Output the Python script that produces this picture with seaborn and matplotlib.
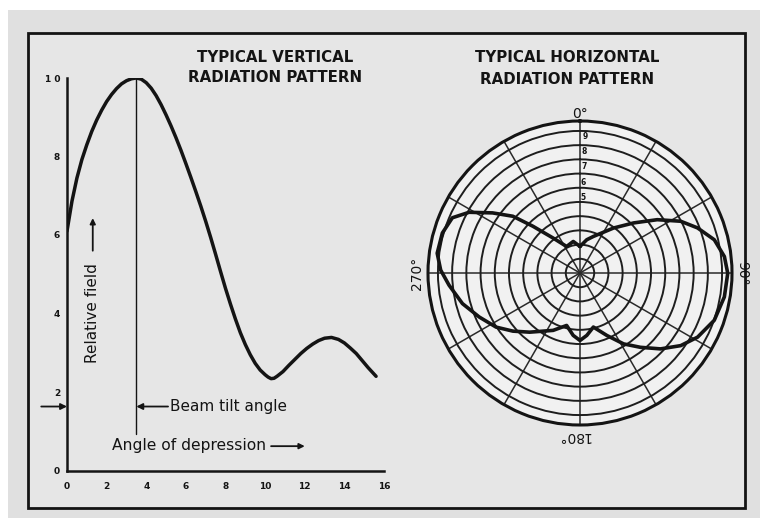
import numpy as np
import pandas as pd
import matplotlib
matplotlib.use("Agg")
import matplotlib.pyplot as plt
import seaborn as sns
from matplotlib.patches import Rectangle

# ---------------- data ----------------
# Vertical radiation pattern: angle of depression (deg) vs relative field
depression_angle = [0, 0.25, 0.5, 0.75, 1.0, 1.25, 1.5, 1.75, 2.0, 2.25, 2.5,
                    2.75, 3.0, 3.25, 3.5, 3.75, 4.0, 4.25, 4.5, 4.75, 5.0,
                    5.25, 5.5, 5.75, 6.0, 6.25, 6.5, 6.75, 7.0, 7.25, 7.5,
                    7.75, 8.0, 8.25, 8.5, 8.75, 9.0, 9.25, 9.5, 9.75, 10.0,
                    10.15, 10.3, 10.45, 10.6, 10.9, 11.2, 11.5, 11.8, 12.1,
                    12.4, 12.7, 13.0, 13.35, 13.7, 14.0, 14.3, 14.6, 14.9,
                    15.2, 15.6]
vertical_field = [0.610, 0.686, 0.745, 0.792, 0.830, 0.864, 0.893, 0.918,
                  0.940, 0.958, 0.973, 0.985, 0.993, 0.998, 1.000, 0.997,
                  0.988, 0.974, 0.955, 0.932, 0.906, 0.878, 0.848, 0.816,
                  0.782, 0.747, 0.711, 0.674, 0.635, 0.594, 0.551, 0.507,
                  0.464, 0.424, 0.386, 0.351, 0.321, 0.295, 0.273, 0.256,
                  0.244, 0.238, 0.234, 0.235, 0.240, 0.252, 0.268, 0.283,
                  0.298, 0.311, 0.322, 0.331, 0.337, 0.339, 0.334, 0.325,
                  0.312, 0.298, 0.280, 0.262, 0.240]
beam_tilt = 3.5
x_tick_labels = ["0", "2", "4", "6", "8", "10", "12", "14", "16"]
y_tick_labels = ["0", "2", "4", "6", "8", "1 0"]

# Horizontal radiation pattern: compass bearing (deg) vs relative field
bearing = [0, 11.5, 20.1, 36.7, 47.0, 55.4, 62.8, 69.0, 76.1, 83.5, 90.1,
           99.4, 109.4, 118.6, 125.8, 133.3, 140.9, 148.4, 156.7, 166.1,
           173.8, 180, 186.2, 194.3, 205.1, 220.4, 229.1, 237.2, 246.4,
           255.4, 264.7, 271.2, 277.9, 286.2, 293.4, 298.7, 304.5, 310.2,
           314.8, 322.4, 333.2, 347.9, 360]
horizontal_field = [0.187, 0.239, 0.274, 0.395, 0.517, 0.661, 0.797, 0.886,
                    0.974, 1.023, 1.040, 1.030, 1.002, 0.943, 0.874, 0.779,
                    0.674, 0.586, 0.479, 0.392, 0.442, 0.475, 0.442, 0.381,
                    0.446, 0.547, 0.625, 0.703, 0.774, 0.855, 0.926, 0.981,
                    1.015, 1.009, 0.979, 0.890, 0.747, 0.619, 0.467, 0.311,
                    0.209, 0.227, 0.187]
ring_labels = ["9", "8", "7", "6", "5"]
ring_label_r = [0.99, 0.885, 0.78, 0.67, 0.565]

# ---------------- figure ----------------
sns.set_style("white")
plt.rcParams["font.family"] = ["DejaVu Sans"]

INK = "#141414"
fig = plt.figure(figsize=(7.6, 5.18), dpi=100)
fig.patch.set_facecolor("white")
# scanned-paper background
fig.add_artist(Rectangle((8 / 760, 0), 1, (518 - 10) / 518, transform=fig.transFigure,
                         facecolor="#e0e0e0", edgecolor="none", zorder=-10))
# outer frame
fig.add_artist(Rectangle((28 / 760, (518 - 508) / 518), 717 / 760, 475 / 518,
                         transform=fig.transFigure, facecolor="#e6e6e6",
                         edgecolor=INK, lw=2.0, zorder=-5))

# ---------------- vertical pattern ----------------
ax = fig.add_axes([67 / 760, (518 - 470.5) / 518, (384 - 67) / 760, (470.5 - 78) / 518])
ax.patch.set_alpha(0)
dfv = pd.DataFrame({"angle": depression_angle, "field": vertical_field})
sns.lineplot(data=dfv, x="angle", y="field", sort=False, estimator=None,
             color=INK, lw=2.5, ax=ax)
ax.set_xlim(0, 16)
ax.set_ylim(0, 1.0)
ax.set_xlabel("")
ax.set_ylabel("")
for s in ["top", "right"]:
    ax.spines[s].set_visible(False)
for s in ["left", "bottom"]:
    ax.spines[s].set_color(INK)
    ax.spines[s].set_linewidth(1.8)
ax.set_xticks(np.arange(0, 17, 2))
ax.set_xticklabels(x_tick_labels)
ax.set_xticks(np.arange(0, 17, 1), minor=True)
ax.set_yticks(np.arange(0, 1.01, 0.2))
ax.set_yticklabels(y_tick_labels)
ax.set_yticks(np.arange(0, 1.01, 0.05), minor=True)
ax.tick_params(axis="both", which="both", direction="in", color=INK, width=1.3)
ax.tick_params(axis="both", which="major", length=4, labelsize=6.5, labelcolor=INK)
ax.tick_params(axis="both", which="minor", length=3)
ax.tick_params(axis="x", which="major", pad=8)
ax.tick_params(axis="y", which="major", pad=5)
for lab in ax.get_xticklabels() + ax.get_yticklabels():
    lab.set_fontweight("bold")

# beam tilt vertical line
ax.plot([beam_tilt, beam_tilt], [0.094, 1.0], color=INK, lw=1.0)
# beam tilt annotation
ax.annotate("", xy=(beam_tilt, 0.163), xytext=(5.1, 0.163),
            arrowprops=dict(arrowstyle="-|>", color=INK, lw=1.3,
                            mutation_scale=9, shrinkA=0, shrinkB=0))
ax.text(5.2, 0.163, "Beam tilt angle", fontsize=11, color=INK,
        va="center", ha="left")
ax.annotate("", xy=(0, 0.163), xytext=(-1.3, 0.163),
            arrowprops=dict(arrowstyle="-|>", color=INK, lw=1.3,
                            mutation_scale=9, shrinkA=0, shrinkB=0),
            annotation_clip=False)
# axis captions
ax.text(2.25, 0.064, "Angle of depression", fontsize=11.2, color=INK,
        va="center", ha="left")
ax.annotate("", xy=(12.0, 0.062), xytext=(10.3, 0.062),
            arrowprops=dict(arrowstyle="-|>", color=INK, lw=1.3,
                            mutation_scale=8, shrinkA=0, shrinkB=0))
ax.text(1.3, 0.40, "Relative field", fontsize=11, color=INK, rotation=90,
        va="center", ha="center")
ax.annotate("", xy=(1.3, 0.643), xytext=(1.3, 0.56),
            arrowprops=dict(arrowstyle="-|>", color=INK, lw=1.3,
                            mutation_scale=8, shrinkA=0, shrinkB=0))

fig.text(275 / 760, 1 - 57 / 518, "TYPICAL VERTICAL", ha="center", va="center",
         fontsize=10.8, fontweight="bold", color=INK)
fig.text(275 / 760, 1 - 78 / 518, "RADIATION PATTERN", ha="center", va="center",
         fontsize=10.8, fontweight="bold", color=INK)

# ---------------- horizontal pattern ----------------
cx, cy, R = 580, 273, 152
axp = fig.add_axes([(cx - R) / 760, (518 - cy - R) / 518, 2 * R / 760, 2 * R / 518],
                   projection="polar")
axp.set_facecolor("#f1f1f1")
axp.set_theta_zero_location("N")
axp.set_theta_direction(-1)
dfh = pd.DataFrame({"theta": np.deg2rad(bearing), "field": horizontal_field})
sns.lineplot(data=dfh, x="theta", y="field", sort=False, estimator=None,
             color=INK, lw=2.6, ax=axp, zorder=5)
axp.set_ylim(0, 1.07)
axp.set_yticks(np.arange(0.1, 1.01, 0.1))
axp.set_yticklabels([])
axp.set_xticks(np.deg2rad(np.arange(0, 360, 30)))
axp.set_xticklabels([])
axp.set_xlabel("")
axp.set_ylabel("")
axp.yaxis.grid(True, color="#1e1e1e", lw=1.4)
axp.xaxis.grid(True, color="#2a2a2a", lw=1.1)
axp.spines["polar"].set_linewidth(2.2)
axp.spines["polar"].set_color(INK)
for lab, rr in zip(ring_labels, ring_label_r):
    axp.text(np.deg2rad(2.2), rr - 0.03, lab, fontsize=5.5, color=INK,
             ha="center", va="center", fontweight="bold")

fig.text(cx / 760, 1 - 114 / 518, "0°", ha="center", va="center",
         fontsize=10, color=INK)
fig.text(742 / 760, 1 - cy / 518, "90°", ha="center", va="center",
         fontsize=10, color=INK, rotation=-90)
fig.text(574 / 760, 1 - 436 / 518, "180°", ha="center", va="center",
         fontsize=10, color=INK, rotation=180)
fig.text(417 / 760, 1 - cy / 518, "270°", ha="center", va="center",
         fontsize=10, color=INK, rotation=90)

fig.text(567 / 760, 1 - 58 / 518, "TYPICAL HORIZONTAL", ha="center", va="center",
         fontsize=10.8, fontweight="bold", color=INK)
fig.text(567 / 760, 1 - 79 / 518, "RADIATION PATTERN", ha="center", va="center",
         fontsize=10.8, fontweight="bold", color=INK)

fig.savefig("out.png", dpi=100, facecolor=fig.get_facecolor())
